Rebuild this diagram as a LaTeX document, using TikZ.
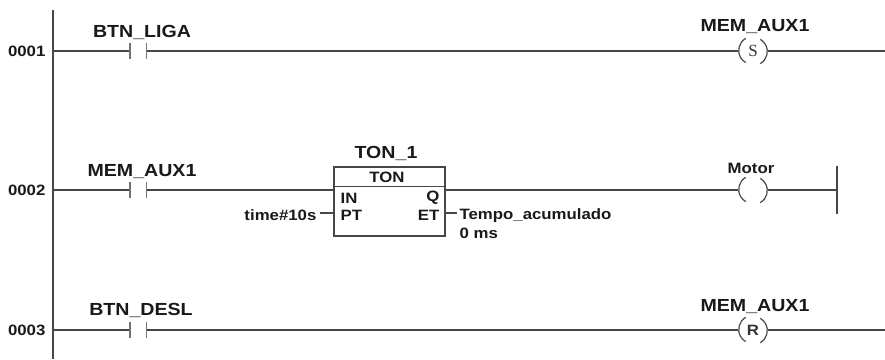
\documentclass[tikz,border=0pt]{standalone}
\usepackage{fontspec}
\setmainfont{Liberation Sans}[FakeStretch=1.12]
\newfontfamily\coilserif{Liberation Serif}
\usetikzlibrary{positioning}

\begin{document}
\begin{tikzpicture}[x=1pt,y=-1pt,line width=1.2pt,
    wire/.style={draw=black!72},
    bar/.style={draw=black!55},
    tag/.style={inner sep=0pt,text=black!90,font=\bfseries\fontsize{17.5}{17.5}\selectfont},
    pinlbl/.style={inner sep=0pt,text=black!90,font=\bfseries\fontsize{15}{15}\selectfont},
    contact/.style={minimum width=15pt,minimum height=15pt,inner sep=0pt},
    coil/.style={circle,minimum size=28pt,inner sep=0pt,text=black!80}]
  \useasboundingbox (0,0) rectangle (885,359);
  \draw[wire] (53,10) -- (53,359); % left rail
  % rung 0001
  \node[pinlbl,anchor=east] (row1) at (46,51) {0001};
  \coordinate (rail1) at (53,51);
  \node[contact] (liga) at (138,51) {};
  \node[tag,anchor=base] (ligaTag) at (142,37) {BTN\_LIGA};
  \node[coil] (setAux) at (753,51) {\coilserif\fontsize{17}{17}\selectfont S};
  \node[tag,anchor=base] (setTag) at (755,31) {MEM\_AUX1};
  \coordinate (end1) at (885,51);
  \draw[wire] (rail1) -- (liga.west) (liga.east) -- (setAux.west) (setAux.east) -- (end1);
  % rung 0002
  \node[pinlbl,anchor=east] (row2) at (46,190) {0002};
  \coordinate (rail2) at (53,190);
  \node[contact] (aux) at (138,190) {};
  \node[tag,anchor=base] (auxTag) at (142,176) {MEM\_AUX1};
  \node[wire,minimum width=111pt,minimum height=69pt,inner sep=0pt] (ton) at (389.5,201.5) {};
  \draw[wire] (ton.north west) ++(0,20) -- ++(111,0);
  \node[tag,anchor=base] (tonName) at (386,158) {TON\_1};
  \node[pinlbl,anchor=base] (tonType) at (387,182) {TON};
  \node[pinlbl,anchor=base west] (pinIn) at (340,203) {IN};
  \node[pinlbl,anchor=base east] (pinQ) at (440,201) {Q};
  \node[pinlbl,anchor=base west] (pinPt) at (340,220) {PT};
  \node[pinlbl,anchor=base east] (pinEt) at (440,220) {ET};
  \coordinate (tonIn) at (ton.west |- rail2);
  \coordinate (tonQ) at (ton.east |- rail2);
  \coordinate (tonPt) at (334,213);
  \coordinate (tonEt) at (445,213);
  \node[pinlbl,anchor=base east] (preset) at (317,220) {time\#10s};
  \coordinate (presetEnd) at (320,213);
  \node[pinlbl,anchor=base west] (accum) at (459,219) {Tempo\_acumulado};
  \node[pinlbl,anchor=base west] (accumVal) at (459,238) {0 ms};
  \coordinate (accumEnd) at (457,213);
  \node[coil] (motor) at (753,190) {};
  \node[pinlbl,anchor=base] (motorTag) at (751,173) {Motor};
  \coordinate (railR) at (837,190);
  \draw[wire] (rail2) -- (aux.west) (aux.east) -- (tonIn) (tonQ) -- (motor.west) (motor.east) -- (railR);
  \draw[wire] (presetEnd) -- (tonPt) (tonEt) -- (accumEnd);
  \draw[wire] (railR) ++(0,-24) -- ++(0,48);
  % rung 0003
  \node[pinlbl,anchor=east] (row3) at (46,330) {0003};
  \coordinate (rail3) at (53,330);
  \node[contact] (desl) at (138,330) {};
  \node[tag,anchor=base] (deslTag) at (141,315) {BTN\_DESL};
  \node[coil] (resetAux) at (753,330) {\bfseries\fontsize{15}{15}\selectfont R};
  \node[tag,anchor=base] (resetTag) at (755,311) {MEM\_AUX1};
  \coordinate (end3) at (885,330);
  \draw[wire] (rail3) -- (desl.west) (desl.east) -- (resetAux.west) (resetAux.east) -- (end3);
  % contact bars and coil arcs
  \foreach \c in {liga,aux,desl}
    \draw[bar] (\c.north west) -- (\c.south west) (\c.north east) -- (\c.south east);
  \foreach \c in {setAux,motor,resetAux}{
    \draw[wire] (\c.120) arc[start angle=120,end angle=240,radius=14pt];
    \draw[wire] (\c.-60) arc[start angle=-60,end angle=60,radius=14pt];
  }
\end{tikzpicture}
\end{document}
